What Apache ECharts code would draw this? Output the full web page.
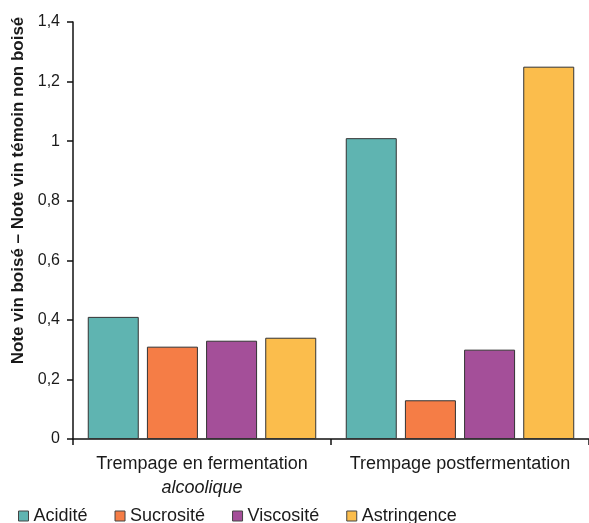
<!DOCTYPE html>
<html>
<head>
<meta charset="utf-8">
<script src="https://cdn.jsdelivr.net/npm/echarts@6/dist/echarts.min.js"></script>
<style>
html,body{margin:0;padding:0;background:#fff;}
#chart{width:589px;height:523px;}
</style>
</head>
<body>
<div id="chart"></div>
<script>
var categories = ['Trempage en fermentation\n{i|alcoolique}', 'Trempage postfermentation'];
var seriesNames = ['Acidité', 'Sucrosité', 'Viscosité', 'Astringence'];
var acidite = [0.41, 1.01];
var sucrosite = [0.31, 0.13];
var viscosite = [0.33, 0.30];
var astringence = [0.34, 1.25];
var yTicks = [0, 0.2, 0.4, 0.6, 0.8, 1, 1.2, 1.4];
var yAxisTitle = 'Note vin boisé – Note vin témoin non boisé';

var colors = ['#5fb4b1', '#f57d46', '#a44f99', '#fbbd4c'];
var values = [acidite, sucrosite, viscosite, astringence];
var FONT = '"Liberation Sans", Arial, sans-serif';
var TXT = '#1a1a1a';

var chart = echarts.init(document.getElementById('chart'));
chart.setOption({
  animation: false,
  textStyle: {fontFamily: FONT},
  grid: {left: 73, right: -4, top: 22, bottom: 84},
  legend: {
    left: 13, bottom: -7,
    itemWidth: 10, itemHeight: 10, itemGap: 27,
    icon: 'rect',
    textStyle: {fontSize: 18, color: TXT, fontFamily: FONT},
    data: seriesNames.map(function (n, i) {
      return {name: n, itemStyle: {color: colors[i], borderColor: '#444', borderWidth: 1}};
    })
  },
  xAxis: {
    type: 'category',
    data: categories,
    axisLine: {lineStyle: {color: '#111', width: 1.5}},
    axisTick: {show: true, length: 6, lineStyle: {color: '#111', width: 1.5}},
    axisLabel: {
      interval: 0,
      fontSize: 18, color: TXT, margin: 14, lineHeight: 23, fontFamily: FONT,
      rich: {i: {fontStyle: 'italic', fontSize: 18, color: TXT, lineHeight: 23, fontFamily: FONT}}
    }
  },
  yAxis: {
    type: 'value',
    min: 0, max: 1.4, interval: 0.2,
    name: yAxisTitle,
    nameLocation: 'middle',
    nameRotate: 90,
    nameGap: 46,
    nameTextStyle: {fontSize: 17, fontWeight: 'bold', color: TXT, fontFamily: FONT, padding: [0, 0, 0, 80]},
    axisLine: {show: true, lineStyle: {color: '#111', width: 1.5}},
    axisTick: {show: true, length: 6, lineStyle: {color: '#111', width: 1.5}},
    splitLine: {show: false},
    axisLabel: {
      fontSize: 16, color: TXT, margin: 13, fontFamily: FONT,
      formatter: function (v) {
        var t = yTicks.find(function (x) { return Math.abs(x - v) < 1e-9; });
        return String(t !== undefined ? t : v).replace('.', ',');
      }
    }
  },
  series: seriesNames.map(function (n, i) {
    return {
      name: n,
      type: 'bar',
      data: values[i],
      barWidth: 51,
      barGap: '16%',
      itemStyle: {color: colors[i], borderColor: '#333', borderWidth: 1}
    };
  })
});
</script>
</body>
</html>
